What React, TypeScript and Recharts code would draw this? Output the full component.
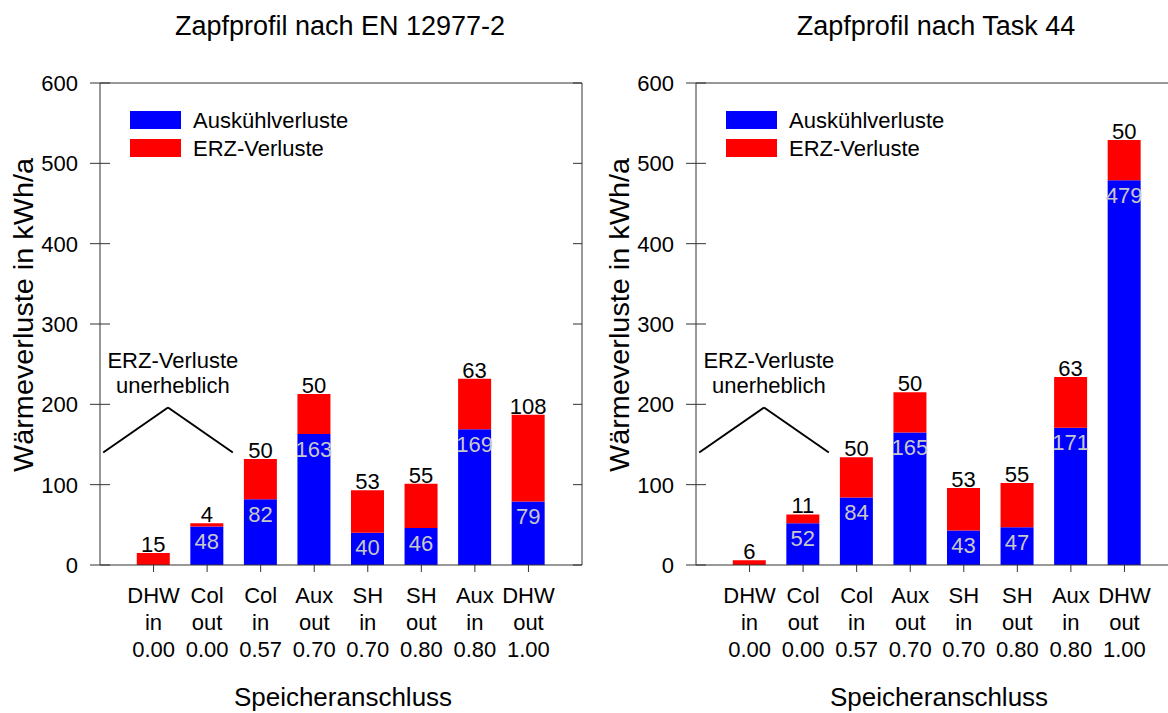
import React from 'react';
import { BarChart, Bar, XAxis, YAxis, ReferenceLine, ReferenceDot, LabelList, Legend } from 'recharts';

const FONT = '"Liberation Sans", Arial, Helvetica, sans-serif';

// ---- data ----
const catNames = ['DHW', 'Col', 'Col', 'Aux', 'SH', 'SH', 'Aux', 'DHW'];
const catDirs = ['in', 'out', 'in', 'out', 'in', 'out', 'in', 'out'];
const catFactors = ['0.00', '0.00', '0.57', '0.70', '0.70', '0.80', '0.80', '1.00'];

const enAuskuehl = [0, 48, 82, 163, 40, 46, 169, 79];
const enErz = [15, 4, 50, 50, 53, 55, 63, 108];
const taskAuskuehl = [0, 52, 84, 165, 43, 47, 171, 479];
const taskErz = [6, 11, 50, 50, 53, 55, 63, 50];

const yTicks = [0, 100, 200, 300, 400, 500, 600];
const xTicks = [1, 2, 3, 4, 5, 6, 7, 8];

const titles = ['Zapfprofil nach EN 12977-2', 'Zapfprofil nach Task 44'];
const yLabel = 'Wärmeverluste in kWh/a';
const xLabel = 'Speicheranschluss';
const seriesNames = ['Auskühlverluste', 'ERZ-Verluste'];
const annotationLines = ['ERZ-Verluste', 'unerheblich'];
const annotationX = [0.06, 1.27, 2.48];
const annotationY = [140, 196, 140];
const annotationTextAt = { x: 1.36, y: 245 };

const BLUE = '#0000ff';
const RED = '#ff0000';
const AXIS = '#333333';

const W = 600;
const H = 713;
const PANEL_OFFSET = 596;

const buildData = (aus: number[], erz: number[]) =>
  catNames.map((_, i) => ({ pos: i + 1, aus: aus[i], erz: erz[i] }));

const LeftTick = (props: any) => {
  const { x, y, payload } = props;
  return (
    <g>
      <line x1={x - 10} x2={x + 10} y1={y} y2={y} stroke={AXIS} />
      <text x={x - 22} y={y} dy="0.36em" textAnchor="end" fontSize={22} fontFamily={FONT} fill="#000">
        {payload.value}
      </text>
    </g>
  );
};

const RightTick = (props: any) => {
  const { x, y } = props;
  return <line x1={x - 9} x2={x} y1={y} y2={y} stroke={AXIS} />;
};

const XTick = (props: any) => {
  const { x, y, payload } = props;
  const i = Math.round(payload.value) - 1;
  return (
    <g>
      <line x1={x} x2={x} y1={y} y2={y + 7} stroke={AXIS} />
      <text textAnchor="middle" fontSize={22} fontFamily={FONT} fill="#000">
        <tspan x={x} y={y + 38}>{catNames[i]}</tspan>
        <tspan x={x} y={y + 65}>{catDirs[i]}</tspan>
        <tspan x={x} y={y + 92}>{catFactors[i]}</tspan>
      </text>
    </g>
  );
};

const LegendContent = (props: any) => {
  const payload = props.payload || [];
  return (
    <svg width={300} height={52} style={{ display: 'block', overflow: 'visible' }}>
      {payload.map((p: any, i: number) => (
        <g key={i}>
          <rect x={0} y={i * 28} width={51} height={18} fill={p.color} />
          <text x={63} y={i * 28 + 9} dy="0.36em" fontSize={22} fontFamily={FONT} fill="#000">
            {p.value}
          </text>
        </g>
      ))}
    </svg>
  );
};

const AnnotationShape = (p: any) => (
  <g>
    <text x={p.cx} y={p.cy} textAnchor="middle" fontSize={22} fontFamily={FONT} fill="#000">
      {annotationLines[0]}
    </text>
    <text x={p.cx} y={p.cy + 25} textAnchor="middle" fontSize={22} fontFamily={FONT} fill="#000">
      {annotationLines[1]}
    </text>
  </g>
);

const hideZero = (v: any) => (v === 0 ? '' : v);

const Panel = ({ aus, erz }: { aus: number[]; erz: number[] }) => {
  const data = buildData(aus, erz);
  return (
    <BarChart width={W} height={H} data={data} margin={{ top: 83, right: 0, bottom: 0, left: 0 }}>
      <XAxis
        type="number"
        dataKey="pos"
        domain={[0, 9]}
        ticks={xTicks}
        interval={0}
        height={148}
        tickSize={0}
        tickMargin={0}
        tickLine={false}
        axisLine={{ stroke: AXIS }}
        tick={<XTick />}
        allowDataOverflow
      />
      <YAxis
        type="number"
        domain={[0, 600]}
        ticks={yTicks}
        interval={0}
        width={100}
        tickSize={0}
        tickMargin={0}
        tickLine={false}
        axisLine={{ stroke: AXIS }}
        tick={<LeftTick />}
        allowDataOverflow
      />
      <YAxis
        yAxisId="right"
        orientation="right"
        type="number"
        domain={[0, 600]}
        ticks={yTicks}
        interval={0}
        width={18}
        tickSize={0}
        tickMargin={0}
        tickLine={false}
        axisLine={{ stroke: AXIS }}
        tick={<RightTick />}
        allowDataOverflow
      />
      <ReferenceLine y={600} stroke={AXIS} />
      <ReferenceLine
        segment={[{ x: annotationX[0], y: annotationY[0] }, { x: annotationX[1], y: annotationY[1] }]}
        stroke="#000"
        strokeWidth={2}
      />
      <ReferenceLine
        segment={[{ x: annotationX[1], y: annotationY[1] }, { x: annotationX[2], y: annotationY[2] }]}
        stroke="#000"
        strokeWidth={2}
      />
      <ReferenceDot x={annotationTextAt.x} y={annotationTextAt.y} r={0} shape={AnnotationShape} />
      <Legend
        layout="vertical"
        align="center"
        verticalAlign="middle"
        content={<LegendContent />}
        wrapperStyle={{ position: 'absolute', left: 130, top: 111, width: 300, height: 52 }}
      />
      <Bar dataKey="aus" name={seriesNames[0]} stackId="s" fill={BLUE} barSize={33} isAnimationActive={false}>
        <LabelList
          dataKey="aus"
          position="insideTop"
          offset={7}
          formatter={hideZero}
          fill="#c8c8c8"
          fontSize={22}
          fontFamily={FONT}
        />
      </Bar>
      <Bar dataKey="erz" name={seriesNames[1]} stackId="s" fill={RED} barSize={33} isAnimationActive={false}>
        <LabelList dataKey="erz" position="top" offset={1} fill="#000" fontSize={22} fontFamily={FONT} />
      </Bar>
    </BarChart>
  );
};

const Overlay = () => (
  <svg
    width={1168}
    height={713}
    style={{ position: 'absolute', left: 0, top: 0, pointerEvents: 'none' }}
  >
    {[0, 1].map((k) => {
      const off = k * PANEL_OFFSET;
      return (
        <g key={k} fontFamily={FONT} fill="#000">
          <text x={340 + off} y={35} textAnchor="middle" fontSize={27}>
            {titles[k]}
          </text>
          <text x={343 + off} y={706} textAnchor="middle" fontSize={26}>
            {xLabel}
          </text>
          <text
            transform={`translate(${33 + off},315) rotate(-90)`}
            textAnchor="middle"
            fontSize={27}
            textLength={314}
            lengthAdjust="spacingAndGlyphs"
          >
            {yLabel}
          </text>
        </g>
      );
    })}
  </svg>
);

export default function App() {
  return (
    <div
      style={{
        position: 'fixed',
        left: 0,
        top: 0,
        width: 1168,
        height: 713,
        overflow: 'hidden',
        background: '#fff',
        fontFamily: FONT,
      }}
    >
      <div style={{ position: 'absolute', left: 0, top: 0 }}>
        <Panel aus={enAuskuehl} erz={enErz} />
      </div>
      <div style={{ position: 'absolute', left: PANEL_OFFSET, top: 0 }}>
        <Panel aus={taskAuskuehl} erz={taskErz} />
      </div>
      <Overlay />
    </div>
  );
}
